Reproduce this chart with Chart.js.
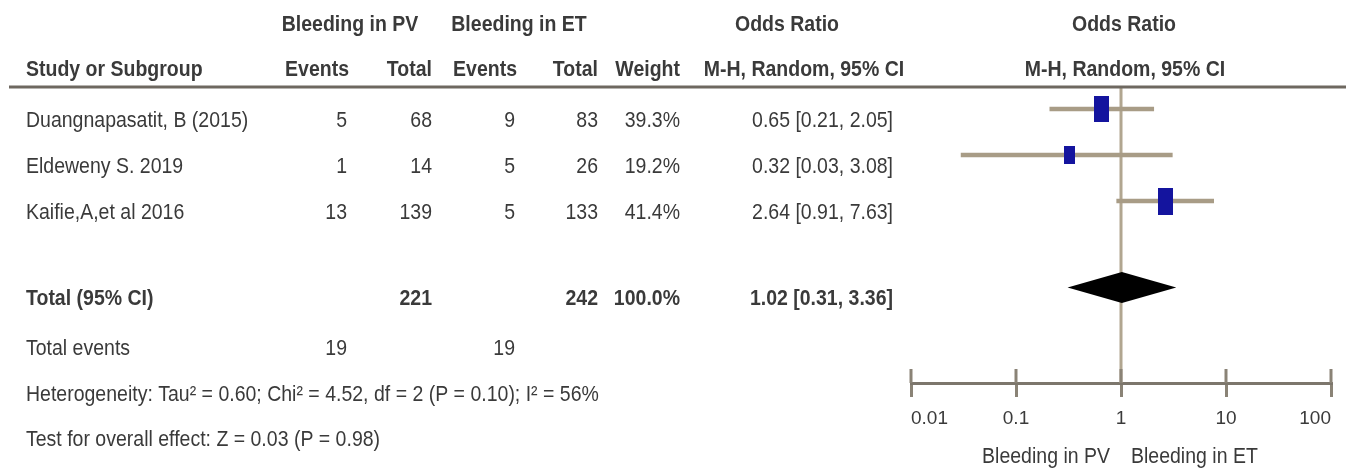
<!DOCTYPE html>
<html>
<head>
<meta charset="utf-8">
<script src="https://cdn.jsdelivr.net/npm/chart.js@4.4.1/dist/chart.umd.min.js"></script>
<style>
  html, body { margin: 0; padding: 0; background: #fff; }
  #forest { display: block; filter: blur(0.6px); }
</style>
</head>
<body>
<canvas id="forest" width="1346" height="469"></canvas>
<script>
// study data
const studies = ['Duangnapasatit, B (2015)', 'Eldeweny S. 2019', 'Kaifie,A,et al 2016'];
const pvEvents = [5, 1, 13];
const pvTotal = [68, 14, 139];
const etEvents = [9, 5, 5];
const etTotal = [83, 26, 133];
const weights = [39.3, 19.2, 41.4];
const orEst = [0.65, 0.32, 2.64];
const ciLow = [0.21, 0.03, 0.91];
const ciHigh = [2.05, 3.08, 7.63];

// pooled result
const totalLabel = 'Total (95% CI)';
const totalN = [221, 242];
const totalEvents = [19, 19];
const pooled = [1.02, 0.31, 3.36]; // est, low, high
const heterogeneity = 'Heterogeneity: Tau² = 0.60; Chi² = 4.52, df = 2 (P = 0.10); I² = 56%';
const overallTest = 'Test for overall effect: Z = 0.03 (P = 0.98)';

// axis
const tickValues = [0.01, 0.1, 1, 10, 100];
const tickLabels = ['0.01', '0.1', '1', '10', '100'];
const favourLabels = ['Bleeding in PV', 'Bleeding in ET'];

// layout (row index on the y scale)
const TOTAL_ROW = 3.88;
const FONT = '"Liberation Sans", Arial, sans-serif';
const TXT = '#3a3a3a';
const BLUE = '#14149e';
const CI_COL = '#a89c86';

function fmt(v) { return v.toFixed(2); }

function boxImage(w) {
  const c = document.createElement('canvas');
  c.width = Math.round(2.4 * Math.sqrt(w));
  c.height = Math.round(4.2 * Math.sqrt(w));
  const g = c.getContext('2d');
  g.fillStyle = BLUE;
  g.fillRect(0, 0, c.width, c.height);
  return c;
}

function txt(ctx, s, x, y, align, bold) {
  ctx.save();
  ctx.font = (bold ? 'bold ' : '') + '19.5px ' + FONT;
  ctx.fillStyle = TXT;
  ctx.textAlign = align;
  ctx.textBaseline = 'middle';
  ctx.translate(x, y);
  ctx.scale(1, 1.15);
  ctx.fillText(s, 0, 0);
  ctx.restore();
}

const forestPlugin = {
  id: 'forestTable',
  beforeDatasetsDraw(chart) {
    const ctx = chart.ctx, xs = chart.scales.x, area = chart.chartArea;
    const x1 = xs.getPixelForValue(1);
    ctx.save();
    ctx.strokeStyle = '#b1a690';
    ctx.lineWidth = 3;
    ctx.beginPath();
    ctx.moveTo(x1, area.top);
    ctx.lineTo(x1, area.bottom);
    ctx.stroke();
    ctx.restore();
  },
  afterDraw(chart) {
    const ctx = chart.ctx, xs = chart.scales.x, ys = chart.scales.y, area = chart.chartArea;

    // header rule
    ctx.save();
    ctx.strokeStyle = '#6e6860';
    ctx.lineWidth = 3;
    ctx.beginPath();
    ctx.moveTo(9, area.top - 1);
    ctx.lineTo(1346, area.top - 1);
    ctx.stroke();
    ctx.restore();

    // upper half of the axis ticks
    ctx.save();
    ctx.strokeStyle = '#8a8376';
    ctx.lineWidth = 3;
    tickValues.forEach(v => {
      const x = xs.getPixelForValue(v);
      ctx.beginPath();
      ctx.moveTo(x, area.bottom - 14);
      ctx.lineTo(x, area.bottom);
      ctx.stroke();
    });
    ctx.restore();

    // pooled diamond
    const ty = ys.getPixelForValue(TOTAL_ROW);
    ctx.save();
    ctx.fillStyle = '#000';
    ctx.beginPath();
    ctx.moveTo(xs.getPixelForValue(pooled[1]), ty);
    ctx.lineTo(xs.getPixelForValue(pooled[0]), ty - 15.5);
    ctx.lineTo(xs.getPixelForValue(pooled[2]), ty);
    ctx.lineTo(xs.getPixelForValue(pooled[0]), ty + 15.5);
    ctx.closePath();
    ctx.fill();
    ctx.restore();

    // column headers
    txt(ctx, 'Bleeding in PV', 350, 25, 'center', true);
    txt(ctx, 'Bleeding in ET', 519, 25, 'center', true);
    txt(ctx, 'Odds Ratio', 787, 25, 'center', true);
    txt(ctx, 'Odds Ratio', 1124, 25, 'center', true);
    txt(ctx, 'Study or Subgroup', 26, 70, 'left', true);
    txt(ctx, 'Events', 349, 70, 'right', true);
    txt(ctx, 'Total', 432, 70, 'right', true);
    txt(ctx, 'Events', 517, 70, 'right', true);
    txt(ctx, 'Total', 598, 70, 'right', true);
    txt(ctx, 'Weight', 680, 70, 'right', true);
    txt(ctx, 'M-H, Random, 95% CI', 804, 70, 'center', true);
    txt(ctx, 'M-H, Random, 95% CI', 1125, 70, 'center', true);

    // study rows
    studies.forEach((s, i) => {
      const y = ys.getPixelForValue(i) + 12;
      txt(ctx, s, 26, y, 'left', false);
      txt(ctx, String(pvEvents[i]), 347, y, 'right', false);
      txt(ctx, String(pvTotal[i]), 432, y, 'right', false);
      txt(ctx, String(etEvents[i]), 515, y, 'right', false);
      txt(ctx, String(etTotal[i]), 598, y, 'right', false);
      txt(ctx, weights[i].toFixed(1) + '%', 680, y, 'right', false);
      txt(ctx, fmt(orEst[i]) + ' [' + fmt(ciLow[i]) + ', ' + fmt(ciHigh[i]) + ']', 893, y, 'right', false);
    });

    // total rows
    const tyt = ty + 11;
    txt(ctx, totalLabel, 26, tyt, 'left', true);
    txt(ctx, String(totalN[0]), 432, tyt, 'right', true);
    txt(ctx, String(totalN[1]), 598, tyt, 'right', true);
    txt(ctx, '100.0%', 680, tyt, 'right', true);
    txt(ctx, fmt(pooled[0]) + ' [' + fmt(pooled[1]) + ', ' + fmt(pooled[2]) + ']', 893, tyt, 'right', true);
    txt(ctx, 'Total events', 26, 349, 'left', false);
    txt(ctx, String(totalEvents[0]), 347, 349, 'right', false);
    txt(ctx, String(totalEvents[1]), 515, 349, 'right', false);
    txt(ctx, heterogeneity, 26, 395, 'left', false);
    txt(ctx, overallTest, 26, 440, 'left', false);

    // favours labels
    const x1 = xs.getPixelForValue(1);
    txt(ctx, favourLabels[0], x1 - 11, 457, 'right', false);
    txt(ctx, favourLabels[1], x1 + 10, 457, 'left', false);
  }
};

new Chart(document.getElementById('forest'), {
  type: 'bar',
  data: {
    datasets: [
      {
        type: 'bar',
        indexAxis: 'y',
        data: studies.map((s, i) => ({ y: i, x: [ciLow[i], ciHigh[i]] })),
        backgroundColor: CI_COL,
        borderWidth: 0,
        barThickness: 4,
        order: 2
      },
      {
        type: 'scatter',
        data: studies.map((s, i) => ({ x: orEst[i], y: i })),
        pointStyle: weights.map(boxImage),
        radius: 8,
        order: 1
      }
    ]
  },
  options: {
    responsive: false,
    devicePixelRatio: 1,
    animation: false,
    events: [],
    layout: { padding: { left: 911, right: 15, top: 88, bottom: 0 } },
    plugins: { legend: { display: false }, tooltip: { enabled: false } },
    scales: {
      x: {
        type: 'logarithmic',
        min: 0.01,
        max: 100,
        offset: false,
        afterBuildTicks: (scale) => { scale.ticks = tickValues.map(v => ({ value: v })); },
        afterFit: (scale) => { scale.height = 86; },
        border: { display: true, color: '#7c766c', width: 3 },
        grid: { offset: false, drawOnChartArea: false, drawTicks: true, tickLength: 14, color: '#8a8376', lineWidth: 3 },
        ticks: {
          align: 'inner',
          padding: 10,
          color: TXT,
          font: { family: FONT, size: 19 },
          maxRotation: 0,
          autoSkip: false,
          callback: (v) => tickLabels[tickValues.indexOf(v)] ?? ''
        }
      },
      y: {
        type: 'linear',
        display: false,
        reverse: true,
        offset: false,
        grid: { offset: false },
        min: -0.457,
        max: 5.957
      }
    }
  },
  plugins: [forestPlugin]
});
</script>
</body>
</html>
